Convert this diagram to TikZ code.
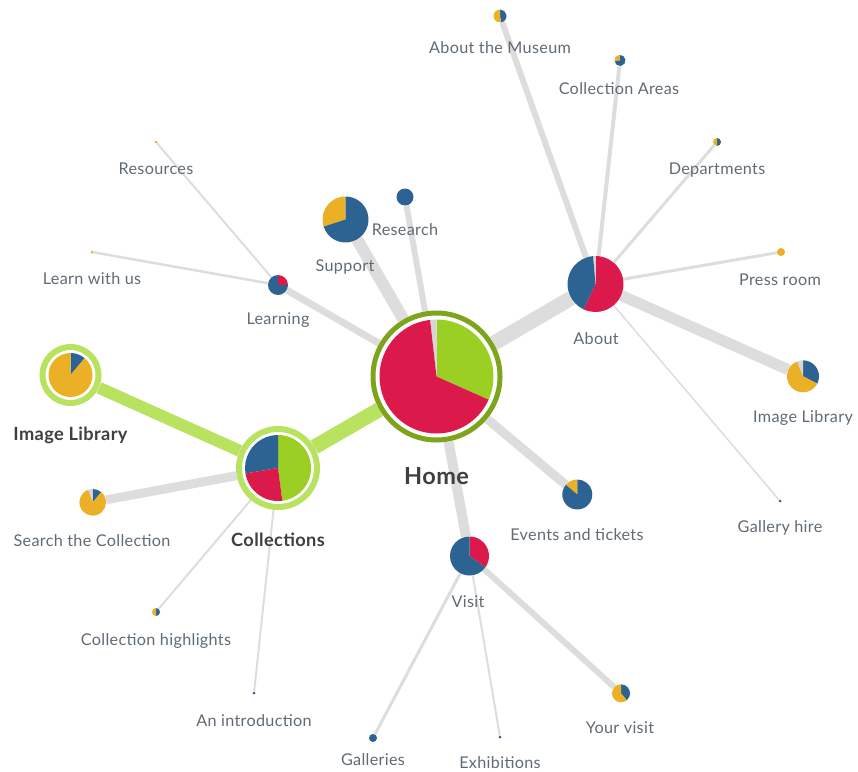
\documentclass[tikz,border=0pt]{standalone}
\usepackage{fontspec}
\setmainfont[LetterSpace=2]{Lato}
\definecolor{pred}{RGB}{220,25,75}
\definecolor{pgreen}{RGB}{155,207,36}
\definecolor{pblue}{RGB}{44,99,147}
\definecolor{pyellow}{RGB}{235,176,38}
\definecolor{pgray}{RGB}{214,214,214}
\definecolor{edgegray}{RGB}{221,221,221}
\definecolor{lightlime}{RGB}{185,226,96}
\definecolor{ringolive}{RGB}{126,164,28}
\definecolor{labelgray}{RGB}{95,107,117}
\definecolor{boldgray}{RGB}{63,63,63}
\tikzset{
  spot/.style={circle, inner sep=0pt, minimum size=#1},
  conn/.style={draw=edgegray, line width=#1},
  gconn/.style={draw=lightlime, line width=#1},
  lbl/.style={text=labelgray, font=\fontsize{16.2}{19}\selectfont, inner sep=0pt},
  blbl/.style={text=boldgray, font=\fontsize{18.2}{22}\bfseries, inner sep=0pt}
}
\newcommand{\drawpie}[3]{%
  \foreach \a/\b/\c in {#3}
    \fill[\c] (#1.center) -- ++(\a:#2pt) arc[start angle=\a, end angle=\b, radius=#2pt] -- cycle;}
\begin{document}
\begin{tikzpicture}[x=1pt, y=-1pt]
  \useasboundingbox (0,0) rectangle (858,771);

  % hubs
  \node[spot=132pt] (home) at (436.5,376.5) {};
  \node[spot=84pt] (collections) at (278,468) {};
  \node[spot=62pt] (imglib) at (70.5,375) {};
  \node[spot=56pt] (about) at (595.5,284) {};
  \node[spot=46pt] (support) at (345.5,219.5) {};
  \node[spot=17pt] (research) at (405,197) {};
  \node[spot=20pt] (learning) at (278,285) {};
  \node[spot=39pt] (visit) at (469.5,556) {};
  \node[spot=30pt] (events) at (577.3,494.5) {};
  \node[spot=26.6pt] (search) at (92.7,502.3) {};
  % leaves
  \node[spot=32pt] (imglibtwo) at (803,376.3) {};
  \node[spot=18pt] (yourvisit) at (621,693.3) {};
  \node[spot=13pt] (museum) at (500,16) {};
  \node[spot=11pt] (areas) at (620,60.5) {};
  \node[spot=8pt] (departments) at (717,142) {};
  \node[spot=8pt] (pressroom) at (781,252) {};
  \node[spot=3pt] (galleryhire) at (780,501) {};
  \node[spot=3pt] (resources) at (156,142) {};
  \node[spot=3pt] (learnwithus) at (92,252) {};
  \node[spot=8pt] (highlights) at (156,612) {};
  \node[spot=3pt] (intro) at (254,693) {};
  \node[spot=8pt] (galleries) at (373,738) {};
  \node[spot=3pt] (exhibitions) at (500,737) {};

  % connectors
  \draw[gconn=15pt] (home) -- (collections);
  \draw[gconn=12pt] (collections) -- (imglib);
  \draw[conn=9pt] (collections) -- (search);
  \draw[conn=2pt] (collections) -- (highlights);
  \draw[conn=2pt] (collections) -- (intro);
  \draw[conn=7pt] (home) -- (learning);
  \draw[conn=2pt] (learning) -- (resources);
  \draw[conn=2.5pt] (learning) -- (learnwithus);
  \draw[conn=12pt] (home) -- (support);
  \draw[conn=6pt] (home) -- (research);
  \draw[conn=15pt] (home) -- (about);
  \draw[conn=9pt] (home) -- (events);
  \draw[conn=10pt] (home) -- (visit);
  \draw[conn=6pt] (about) -- (museum);
  \draw[conn=4pt] (about) -- (areas);
  \draw[conn=3pt] (about) -- (departments);
  \draw[conn=3pt] (about) -- (pressroom);
  \draw[conn=11pt] (about) -- (imglibtwo);
  \draw[conn=1.5pt] (about) -- (galleryhire);
  \draw[conn=3pt] (visit) -- (galleries);
  \draw[conn=2pt] (visit) -- (exhibitions);
  \draw[conn=6pt] (visit) -- (yourvisit);

  % rings
  \draw[ringolive, line width=5pt] (home.center) circle[radius=63.5pt];
  \draw[lightlime, line width=6pt] (collections.center) circle[radius=39pt];
  \draw[lightlime, line width=6pt] (imglib.center) circle[radius=28pt];

  % pies
  \drawpie{home}{57}{-24/90/pgreen, 90/96.5/pgray, 96.5/336/pred}
  \drawpie{collections}{33}{-82.5/90/pgreen, 90/189.6/pblue, 189.6/277.5/pred}
  \drawpie{imglib}{22}{50/90/pblue, 90/410/pyellow}
  \drawpie{about}{28}{-115/90/pred, 90/95/pgray, 95/245/pblue}
  \drawpie{support}{23}{90/198/pyellow, 198/450/pblue}
  \drawpie{research}{8.5}{0/360/pblue}
  \drawpie{learning}{10}{0/90/pred, 90/360/pblue}
  \drawpie{visit}{19.5}{-35/90/pred, 90/325/pblue}
  \drawpie{imglibtwo}{16}{-27/90/pblue, 90/112/pgray, 112/333/pyellow}
  \drawpie{events}{15}{90/140/pyellow, 140/450/pblue}
  \drawpie{search}{13.3}{50/90/pblue, 90/110/pgray, 110/410/pyellow}
  \drawpie{yourvisit}{9}{-50/90/pblue, 90/310/pyellow}
  \drawpie{museum}{6.5}{-80/90/pblue, 90/280/pyellow}
  \drawpie{areas}{5.5}{90/190/pyellow, 190/450/pblue}
  \drawpie{departments}{4}{-90/90/pblue, 90/270/pyellow}
  \drawpie{pressroom}{4}{0/360/pyellow}
  \drawpie{galleryhire}{1.5}{0/360/pblue}
  \drawpie{resources}{1.5}{0/360/pyellow}
  \drawpie{learnwithus}{1.5}{0/360/pyellow}
  \drawpie{highlights}{4}{-90/90/pblue, 90/270/pyellow}
  \drawpie{intro}{1.5}{0/360/pblue}
  \drawpie{galleries}{4}{0/360/pblue}
  \drawpie{exhibitions}{1.5}{0/360/pblue}

  % labels
  \node[blbl, font=\fontsize{23.5}{28}\bfseries] (home-l) at (436.5,476) {Home};
  \node[blbl] (collections-l) at (278,540) {Collections};
  \node[blbl] (imglib-l) at (70.5,435) {Image Library};
  \node[lbl] (about-l) at (596,339) {About};
  \node[lbl] (support-l) at (345,267) {Support};
  \node[lbl] (research-l) at (405,230) {Research};
  \node[lbl] (learning-l) at (278,320) {Learning};
  \node[lbl] (visit-l) at (468,602) {Visit};
  \node[lbl] (events-l) at (577,535) {Events and tickets};
  \node[lbl] (search-l) at (92,541) {Search the Collection};
  \node[lbl] (imglibtwo-l) at (803,418) {Image Library};
  \node[lbl] (yourvisit-l) at (620,728) {Your visit};
  \node[lbl] (museum-l) at (500,48) {About the Museum};
  \node[lbl] (areas-l) at (619,89) {Collection Areas};
  \node[lbl] (departments-l) at (717,170) {Departments};
  \node[lbl] (pressroom-l) at (780,280) {Press room};
  \node[lbl] (galleryhire-l) at (780,528) {Gallery hire};
  \node[lbl] (resources-l) at (156,169) {Resources};
  \node[lbl] (learnwithus-l) at (92,279) {Learn with us};
  \node[lbl] (highlights-l) at (156,641) {Collection highlights};
  \node[lbl] (intro-l) at (254,721) {An introduction};
  \node[lbl] (galleries-l) at (373,760) {Galleries};
  \node[lbl] (exhibitions-l) at (500,763) {Exhibitions};
\end{tikzpicture}
\end{document}
